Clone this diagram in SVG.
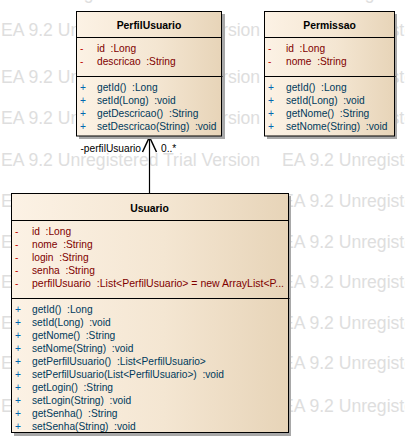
<svg xmlns="http://www.w3.org/2000/svg" width="405" height="443" viewBox="0 0 405 443">
<style>
text{font-family:"Liberation Sans",Arial,sans-serif;white-space:pre}
.wm{font-size:17.6px;fill:#dedede}
.title{font-size:10.4px;font-weight:bold;fill:#000;text-anchor:middle}
.t{font-size:10.2px}
.am{fill:#c00000}
.at{fill:#800000}
.mp{fill:#0068b0}
.mt{fill:#003a5c}
.box{stroke:#000;stroke-width:1;fill:url(#g)}
.sh{fill:#a8a8a8}
.div{stroke:#000;stroke-width:1}
.lbl{font-size:10.2px;fill:#000}
</style>
<defs>
<linearGradient id="g" x1="0" y1="0" x2="1" y2="0">
<stop offset="0" stop-color="#fcf2e5"/>
<stop offset="0.55" stop-color="#f4e6d2"/>
<stop offset="1" stop-color="#e7d4b8"/>
</linearGradient>
</defs>
<rect width="405" height="443" fill="#fff"/>
<g id="watermark">
<text class="wm" y="-1"><tspan x="-11">EA 9.2 Unregistered Trial Version</tspan><tspan x="270">EA 9.2 Unregistered Trial Version</tspan></text>
<text class="wm" y="36"><tspan x="1">EA 9.2 Unregistered Trial Version</tspan><tspan x="282">EA 9.2 Unregistered Trial Version</tspan></text>
<text class="wm" y="83"><tspan x="1">EA 9.2 Unregistered Trial Version</tspan><tspan x="282">EA 9.2 Unregistered Trial Version</tspan></text>
<text class="wm" y="124"><tspan x="1">EA 9.2 Unregistered Trial Version</tspan><tspan x="282">EA 9.2 Unregistered Trial Version</tspan></text>
<text class="wm" y="166"><tspan x="1">EA 9.2 Unregistered Trial Version</tspan><tspan x="282">EA 9.2 Unregistered Trial Version</tspan></text>
<text class="wm" y="207"><tspan x="1">EA 9.2 Unregistered Trial Version</tspan><tspan x="282">EA 9.2 Unregistered Trial Version</tspan></text>
<text class="wm" y="248"><tspan x="1">EA 9.2 Unregistered Trial Version</tspan><tspan x="282">EA 9.2 Unregistered Trial Version</tspan></text>
<text class="wm" y="288"><tspan x="1">EA 9.2 Unregistered Trial Version</tspan><tspan x="282">EA 9.2 Unregistered Trial Version</tspan></text>
<text class="wm" y="329"><tspan x="1">EA 9.2 Unregistered Trial Version</tspan><tspan x="282">EA 9.2 Unregistered Trial Version</tspan></text>
<text class="wm" y="369"><tspan x="1">EA 9.2 Unregistered Trial Version</tspan><tspan x="282">EA 9.2 Unregistered Trial Version</tspan></text>
<text class="wm" y="412"><tspan x="1">EA 9.2 Unregistered Trial Version</tspan><tspan x="282">EA 9.2 Unregistered Trial Version</tspan></text>
</g>
<g id="connectors">
<line x1="149.5" y1="137" x2="149.5" y2="193" stroke="#000" stroke-width="1.2"/>
<polyline points="142.5,152 149.5,137 156.5,152" fill="none" stroke="#000" stroke-width="1.5"/>
<text class="lbl" x="141" y="152" text-anchor="end">-perfilUsuario</text>
<text class="lbl" x="161" y="152">0..*</text>
</g>
<g id="PerfilUsuario">
<rect class="sh" x="79" y="14" width="146" height="125"/>
<rect class="box" x="76.5" y="11.5" width="145" height="124.5"/>
<line class="div" x1="76.5" y1="37.5" x2="221.5" y2="37.5"/>
<line class="div" x1="76.5" y1="76.5" x2="222.5" y2="76.5"/>
<text class="title" x="149" y="29">PerfilUsuario</text>
<text class="t"><tspan class="am" x="80" y="51.5">-</tspan><tspan class="at" x="97" y="51.5">id  :Long</tspan></text>
<text class="t"><tspan class="am" x="80" y="64.5">-</tspan><tspan class="at" x="97" y="64.5">descricao  :String</tspan></text>
<text class="t"><tspan class="mp" x="80" y="90.5">+</tspan><tspan class="mt" x="97" y="90.5">getId()  :Long</tspan></text>
<text class="t"><tspan class="mp" x="80" y="103.5">+</tspan><tspan class="mt" x="97" y="103.5">setId(Long)  :void</tspan></text>
<text class="t"><tspan class="mp" x="80" y="116.5">+</tspan><tspan class="mt" x="97" y="116.5">getDescricao()  :String</tspan></text>
<text class="t"><tspan class="mp" x="80" y="129.5">+</tspan><tspan class="mt" x="97" y="129.5">setDescricao(String)  :void</tspan></text>
</g>
<g id="Permissao">
<rect class="sh" x="267" y="14" width="130" height="125"/>
<rect class="box" x="264.5" y="11.5" width="130" height="124.5"/>
<line class="div" x1="264.5" y1="37.5" x2="394.5" y2="37.5"/>
<line class="div" x1="264.5" y1="76.5" x2="395.5" y2="76.5"/>
<text class="title" x="329.5" y="29">Permissao</text>
<text class="t"><tspan class="am" x="268" y="51.5">-</tspan><tspan class="at" x="286" y="51.5">id  :Long</tspan></text>
<text class="t"><tspan class="am" x="268" y="64.5">-</tspan><tspan class="at" x="286" y="64.5">nome  :String</tspan></text>
<text class="t"><tspan class="mp" x="268" y="90.5">+</tspan><tspan class="mt" x="286" y="90.5">getId()  :Long</tspan></text>
<text class="t"><tspan class="mp" x="268" y="103.5">+</tspan><tspan class="mt" x="286" y="103.5">setId(Long)  :void</tspan></text>
<text class="t"><tspan class="mp" x="268" y="116.5">+</tspan><tspan class="mt" x="286" y="116.5">getNome()  :String</tspan></text>
<text class="t"><tspan class="mp" x="268" y="129.5">+</tspan><tspan class="mt" x="286" y="129.5">setNome(String)  :void</tspan></text>
</g>
<g id="Usuario">
<rect class="sh" x="14" y="196" width="277" height="240"/>
<rect class="box" x="11.5" y="193.5" width="277" height="239"/>
<line class="div" x1="11.5" y1="220.5" x2="288.5" y2="220.5"/>
<line class="div" x1="11.5" y1="298.5" x2="289.5" y2="298.5"/>
<text class="title" x="149.5" y="212">Usuario</text>
<text class="t"><tspan class="am" x="15" y="234.5">-</tspan><tspan class="at" x="32" y="234.5">id  :Long</tspan></text>
<text class="t"><tspan class="am" x="15" y="247.5">-</tspan><tspan class="at" x="32" y="247.5">nome  :String</tspan></text>
<text class="t"><tspan class="am" x="15" y="260.5">-</tspan><tspan class="at" x="32" y="260.5">login  :String</tspan></text>
<text class="t"><tspan class="am" x="15" y="273.5">-</tspan><tspan class="at" x="32" y="273.5">senha  :String</tspan></text>
<text class="t"><tspan class="am" x="15" y="286.5">-</tspan><tspan class="at" x="32" y="286.5" textLength="252" lengthAdjust="spacingAndGlyphs">perfilUsuario  :List&lt;PerfilUsuario&gt; = new ArrayList&lt;P...</tspan></text>
<text class="t"><tspan class="mp" x="15" y="312.5">+</tspan><tspan class="mt" x="32" y="312.5">getId()  :Long</tspan></text>
<text class="t"><tspan class="mp" x="15" y="325.5">+</tspan><tspan class="mt" x="32" y="325.5">setId(Long)  :void</tspan></text>
<text class="t"><tspan class="mp" x="15" y="338.5">+</tspan><tspan class="mt" x="32" y="338.5">getNome()  :String</tspan></text>
<text class="t"><tspan class="mp" x="15" y="351.5">+</tspan><tspan class="mt" x="32" y="351.5">setNome(String)  :void</tspan></text>
<text class="t"><tspan class="mp" x="15" y="364.5">+</tspan><tspan class="mt" x="32" y="364.5">getPerfilUsuario()  :List&lt;PerfilUsuario&gt;</tspan></text>
<text class="t"><tspan class="mp" x="15" y="377.5">+</tspan><tspan class="mt" x="32" y="377.5">setPerfilUsuario(List&lt;PerfilUsuario&gt;)  :void</tspan></text>
<text class="t"><tspan class="mp" x="15" y="390.5">+</tspan><tspan class="mt" x="32" y="390.5">getLogin()  :String</tspan></text>
<text class="t"><tspan class="mp" x="15" y="403.5">+</tspan><tspan class="mt" x="32" y="403.5">setLogin(String)  :void</tspan></text>
<text class="t"><tspan class="mp" x="15" y="416.5">+</tspan><tspan class="mt" x="32" y="416.5">getSenha()  :String</tspan></text>
<text class="t"><tspan class="mp" x="15" y="429.5">+</tspan><tspan class="mt" x="32" y="429.5">setSenha(String)  :void</tspan></text>
</g>
</svg>
